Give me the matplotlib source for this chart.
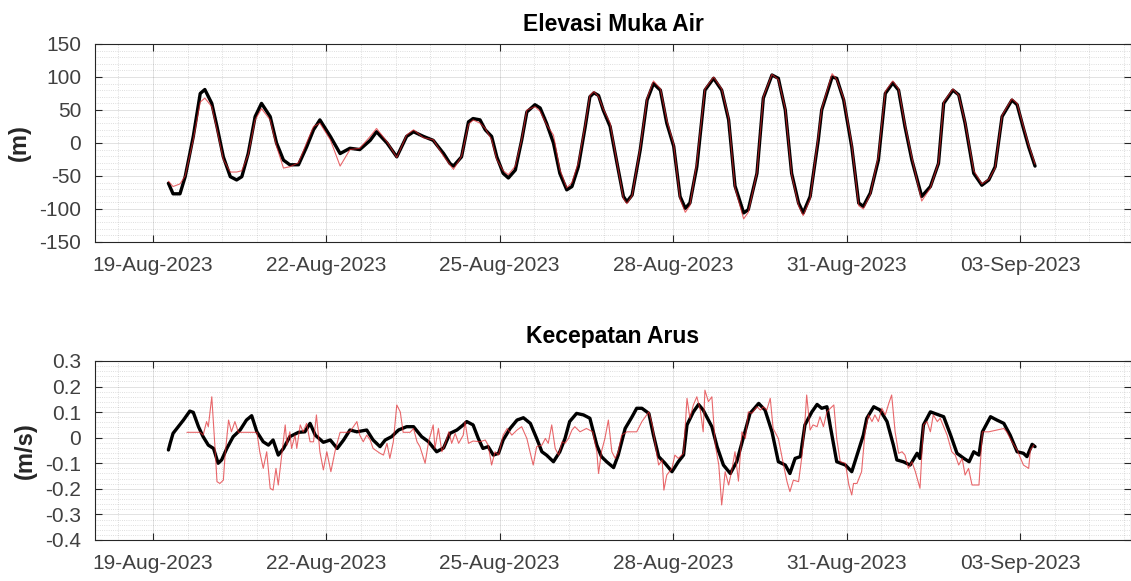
import numpy as np
import pandas as pd
import matplotlib
matplotlib.use('Agg')
import matplotlib.pyplot as plt
import matplotlib.dates as mdates
from matplotlib.ticker import FixedLocator, MultipleLocator, FuncFormatter

#######################################
#      data     #
#######################################
start_date = '2023-08-18'   # days below are counted from this date

# water level, black line (observed) and red line (model), same times
elev_days = [1.27, 1.35, 1.47, 1.56, 1.70, 1.82, 1.90, 2.02, 2.11, 2.22, 2.34, 2.45, 2.54, 2.65,
             2.77, 2.88, 3.03, 3.14, 3.26, 3.37, 3.52, 3.66, 3.78, 3.89, 4.07, 4.24, 4.41, 4.58,
             4.76, 4.87, 5.05, 5.22, 5.39, 5.51, 5.68, 5.85, 6.03, 6.14, 6.20, 6.34, 6.46, 6.54,
             6.66, 6.75, 6.86, 6.95, 7.06, 7.15, 7.27, 7.38, 7.47, 7.61, 7.70, 7.81, 7.93, 8.04,
             8.16, 8.25, 8.36, 8.48, 8.56, 8.63, 8.71, 8.79, 8.91, 9.03, 9.14, 9.20, 9.29, 9.43,
             9.55, 9.66, 9.78, 9.89, 10.01, 10.12, 10.21, 10.29, 10.41, 10.55, 10.70, 10.84, 10.96,
             11.07, 11.22, 11.30, 11.45, 11.56, 11.71, 11.82, 11.94, 12.05, 12.17, 12.25, 12.37,
             12.51, 12.57, 12.75, 12.83, 12.95, 13.09, 13.21, 13.29, 13.41, 13.55, 13.67, 13.80,
             13.90, 14.01, 14.13, 14.30, 14.45, 14.59, 14.68, 14.84, 14.94, 15.05, 15.20, 15.34,
             15.46, 15.57, 15.69, 15.86, 15.95, 16.06, 16.15, 16.26]
elev_obs = [-61, -77, -77, -51, 10, 75, 81, 60, 25, -21, -51, -56, -51, -16,
            40, 60, 40, 0, -26, -33, -33, -6, 20, 35, 10, -16, -8, -10,
            4, 17, 0, -21, 10, 17, 10, 4, -16, -31, -35, -21, 32, 37,
            35, 20, 10, -21, -46, -53, -41, 4, 47, 58, 53, 30, 0, -46,
            -71, -66, -36, 25, 70, 76, 72, 50, 25, -31, -81, -89, -79, -11,
            65, 90, 80, 30, -5, -81, -99, -91, -36, 80, 98, 80, 35,
            -65, -106, -101, -46, 68, 103, 98, 50, -46, -91, -106, -81,
            4, 50, 100, 98, 65, -6, -91, -96, -76, -26, 75, 91,
            80, 25, -26, -81, -66, -31, 60, 80, 73, 30, -46, -64,
            -56, -36, 40, 65, 58, 22, -6, -35]
elev_mod = [-58, -66, -62, -50, 5, 62, 68, 55, 20, -25, -44, -44, -42, -18,
            35, 52, 35, -5, -38, -36, -30, 0, 25, 30, 5, -35, -10, -8,
            10, 22, 2, -22, 12, 20, 8, 5, -20, -33, -40, -20, 28, 35,
            30, 22, 5, -25, -42, -48, -35, 5, 50, 55, 48, 28, 12, -40,
            -68, -60, -30, 28, 72, 78, 70, 52, 30, -30, -84, -92, -80, -8,
            68, 94, 82, 35, -2, -85, -105, -95, -30, 82, 100, 82, 38,
            -68, -115, -105, -45, 70, 104, 96, 52, -48, -95, -110, -85,
            10, 52, 105, 96, 68, -2, -95, -100, -78, -20, 78, 94,
            82, 28, -22, -88, -68, -30, 62, 82, 72, 32, -42, -62,
            -55, -38, 42, 67, 60, 25, -3, -32]

# current speed, black line (observed)
cur_obs_days = [1.27, 1.30, 1.35, 1.44, 1.53, 1.64, 1.70, 1.79, 1.87, 1.96, 2.05, 2.13, 2.19,
                2.28, 2.39, 2.51, 2.62, 2.71, 2.80, 2.91, 3.00, 3.08, 3.17, 3.26, 3.37, 3.52,
                3.63, 3.72, 3.81, 3.95, 4.07, 4.19, 4.30, 4.41, 4.53, 4.70, 4.81, 4.93, 5.02,
                5.13, 5.25, 5.39, 5.51, 5.65, 5.77, 5.91, 6.03, 6.14, 6.26, 6.37, 6.43, 6.54,
                6.63, 6.71, 6.80, 6.89, 6.98, 7.06, 7.18, 7.30, 7.41, 7.53, 7.64, 7.73, 7.81,
                7.93, 8.04, 8.13, 8.21, 8.33, 8.45, 8.56, 8.68, 8.76, 8.85, 8.97, 9.05, 9.17,
                9.29, 9.37, 9.46, 9.58, 9.66, 9.75, 9.86, 9.98, 10.09, 10.18, 10.24, 10.35,
                10.44, 10.52, 10.67, 10.76, 10.87, 10.99, 11.10, 11.22, 11.33, 11.48, 11.59,
                11.71, 11.82, 11.94, 12.02, 12.11, 12.20, 12.28, 12.40, 12.49, 12.57, 12.66,
                12.72, 12.83, 12.98, 13.09, 13.18, 13.29, 13.35, 13.47, 13.58, 13.70, 13.81,
                13.87, 13.98, 14.10, 14.22, 14.27, 14.33, 14.45, 14.57, 14.68, 14.80, 14.91,
                15.03, 15.12, 15.20, 15.29, 15.35, 15.49, 15.60, 15.72, 15.83, 15.95, 16.06,
                16.12, 16.21, 16.26]
cur_obs = [-0.048, -0.022, 0.017, 0.043, 0.069, 0.104, 0.099, 0.043, 0.004, -0.029, -0.042, -0.100, -0.087,
           -0.042, 0.004, 0.030, 0.069, 0.086, 0.023, -0.016, -0.029, -0.009, -0.068, -0.042, 0.004, 0.021,
           0.023, 0.056, 0.010, -0.018, -0.009, -0.042, -0.009, 0.030, 0.023, 0.030, -0.009, -0.035, -0.009,
           0.004, 0.030, 0.043, 0.043, 0.004, -0.016, -0.055, -0.040, 0.017, 0.030, 0.050, 0.063, 0.050,
           -0.003, -0.042, -0.035, -0.068, -0.061, -0.009, 0.036, 0.069, 0.078, 0.056, -0.003, -0.055, -0.068,
           -0.094, -0.055, -0.003, 0.063, 0.095, 0.089, 0.076, -0.029, -0.074, -0.094, -0.117, -0.068, 0.036,
           0.082, 0.115, 0.115, 0.095, 0.010, -0.074, -0.100, -0.133, -0.094, -0.068, 0.050, 0.101,
           0.130, 0.108, 0.043, -0.035, -0.107, -0.140, -0.094, 0.004, 0.095, 0.134, 0.108,
           0.023, -0.094, -0.107, -0.140, -0.081, -0.074, 0.050, 0.101, 0.130, 0.115, 0.121,
           0.043, -0.094, -0.107, -0.133, -0.068, 0.010, 0.076, 0.121, 0.108, 0.063, -0.029,
           -0.087, -0.094, -0.107, -0.061, -0.081, 0.050, 0.101, 0.091, 0.082, 0.010, -0.061,
           -0.081, -0.094, -0.055, -0.068, 0.023, 0.082, 0.069, 0.056, 0.010, -0.055, -0.061,
           -0.074, -0.026, -0.035]

# current speed, red line (model)
cur_mod_days = [1.59, 1.82, 1.87, 1.93, 1.96, 2.02, 2.08, 2.11, 2.16, 2.22, 2.25, 2.31, 2.36, 2.42,
                2.48, 2.80, 2.85, 2.91, 2.97, 3.03, 3.08, 3.13, 3.17, 3.23, 3.29, 3.32, 3.37, 3.40,
                3.46, 3.49, 3.55, 3.60, 3.66, 3.72, 3.78, 3.83, 3.89, 3.95, 4.01, 4.08, 4.15, 4.21,
                4.24, 4.35, 4.41, 4.47, 4.53, 4.58, 4.64, 4.70, 4.76, 4.81, 4.93, 4.99, 5.05, 5.10,
                5.16, 5.22, 5.28, 5.33, 5.45, 5.51, 5.57, 5.62, 5.71, 5.77, 5.85, 5.88, 5.94, 6.00,
                6.06, 6.12, 6.17, 6.23, 6.29, 6.37, 6.40, 6.46, 6.54, 6.66, 6.75, 6.80, 6.86, 6.92,
                6.98, 7.06, 7.13, 7.21, 7.30, 7.38, 7.47, 7.53, 7.58, 7.64, 7.73, 7.79, 7.84, 7.90,
                7.96, 8.02, 8.08, 8.13, 8.19, 8.25, 8.30, 8.39, 8.50, 8.61, 8.68, 8.71, 8.76, 8.82,
                8.88, 8.94, 9.00, 9.05, 9.11, 9.20, 9.29, 9.37, 9.46, 9.52, 9.58, 9.64, 9.72, 9.75,
                9.81, 9.84, 9.89, 9.98, 10.03, 10.09, 10.18, 10.24, 10.29, 10.35, 10.41, 10.47,
                10.52, 10.55, 10.61, 10.67, 10.73, 10.79, 10.84, 10.90, 10.96, 11.01, 11.07, 11.13,
                11.19, 11.25, 11.30, 11.36, 11.45, 11.51, 11.56, 11.62, 11.68, 11.73, 11.82, 11.91,
                11.97, 12.02, 12.08, 12.17, 12.23, 12.28, 12.31, 12.37, 12.42, 12.49, 12.54, 12.60,
                12.66, 12.72, 12.78, 12.83, 12.89, 12.98, 13.04, 13.09, 13.12, 13.18, 13.26, 13.32,
                13.38, 13.44, 13.49, 13.55, 13.61, 13.67, 13.73, 13.78, 13.84, 13.90, 13.96, 14.01,
                14.07, 14.13, 14.19, 14.27, 14.33, 14.39, 14.45, 14.50, 14.57, 14.62, 14.74, 14.82,
                14.88, 14.94, 15.00, 15.05, 15.11, 15.17, 15.29, 15.35, 15.46, 15.60, 15.72, 15.77,
                15.86, 15.95, 16.01, 16.06, 16.15, 16.18, 16.24]
cur_mod = [0.021, 0.021, 0.010, 0.063, 0.043, 0.160, -0.055, -0.172, -0.179, -0.166, -0.068, 0.069, 0.023, 0.063,
           0.021, 0.021, -0.055, -0.120, -0.055, -0.198, -0.205, -0.120, -0.185, -0.068, 0.050, -0.029, 0.023, -0.042,
           0.010, -0.042, 0.050, 0.023, 0.056, -0.016, -0.016, 0.089, -0.055, -0.126, -0.055, -0.133, -0.055, -0.003,
           0.021, 0.021, 0.023, 0.043, 0.063, 0.010, -0.016, 0.010, -0.009, -0.042, -0.061, -0.068, -0.022, -0.081,
           -0.016, 0.128, 0.101, 0.021, 0.021, 0.036, -0.016, -0.035, -0.100, -0.016, 0.050, -0.042, 0.036, -0.055,
           -0.022, 0.023, -0.022, 0.017, -0.022, 0.010, 0.063, -0.022, -0.013, -0.016, -0.009, -0.029, -0.107, -0.055,
           -0.068, 0.010, 0.036, 0.010, 0.030, 0.043, -0.003, -0.061, -0.107, -0.035, -0.029, -0.003, -0.022, 0.050,
           -0.042, -0.068, -0.016, -0.022, -0.003, 0.030, 0.043, 0.023, 0.036, 0.023, -0.055, -0.140, -0.055, -0.003,
           0.069, -0.055, -0.081, -0.055, 0.010, 0.023, 0.023, 0.023, 0.063, 0.082, 0.101, 0.050, -0.068, -0.107,
           -0.087, -0.205, -0.146, -0.120, -0.068, -0.081, -0.061, 0.154, 0.076, 0.128, 0.160, 0.108,
           0.023, 0.186, 0.141, 0.160, -0.029, -0.107, -0.263, -0.133, -0.185, -0.133, -0.055, -0.170,
           0.023, -0.003, 0.101, 0.095, 0.121, 0.108, 0.121, 0.108, 0.154, 0.036, -0.003, -0.107,
           -0.172, -0.211, -0.166, -0.172, -0.068, 0.063, 0.167, 0.030, 0.050, 0.043, 0.082, 0.043,
           0.101, 0.115, 0.128, -0.003, -0.094, -0.100, -0.185, -0.224, -0.179, -0.179, -0.133, 0.023,
           0.089, 0.063, 0.089, 0.063, 0.115, 0.089, 0.134, 0.167, 0.023, -0.061, -0.055, -0.068,
           -0.120, -0.094, -0.133, -0.198, 0.050, 0.063, 0.023, 0.089, 0.063, 0.076, 0.010, -0.055,
           -0.068, -0.107, -0.081, -0.146, -0.120, -0.185, -0.185, 0.023, 0.023, 0.030, 0.036, 0.023,
           -0.016, -0.048, -0.081, -0.107, -0.120, -0.048, -0.029]

tick_dates = ['2023-08-19', '2023-08-22', '2023-08-25', '2023-08-28', '2023-08-31', '2023-09-03']

titles = ['Elevasi Muka Air', 'Kecepatan Arus']
ylabels = ['(m)', '(m/s)']

#######################################
#      style                          #
#######################################
plt.rcParams['font.family'] = ['Liberation Sans', 'DejaVu Sans']
plt.rcParams['axes.unicode_minus'] = False
dark = '#262626'
red = '#e0282d'

base = mdates.date2num(pd.Timestamp(start_date))
xmin, xmax = base, base + 17.92


def to_num(days):
    return base + np.array(days)


fig = plt.figure(figsize=(11.31, 5.81), dpi=100)
ax1 = fig.add_axes([0.084, 0.5835, 0.916, 0.3408])
ax2 = fig.add_axes([0.084, 0.0706, 0.916, 0.3081])

line_kw = dict(solid_joinstyle='round', solid_capstyle='round')
ax1.plot(to_num(elev_days), elev_mod, color=red, lw=0.8, alpha=0.7, zorder=3, **line_kw)
ax1.plot(to_num(elev_days), elev_obs, color='black', lw=2.4, zorder=2, **line_kw)
ax2.plot(to_num(cur_mod_days), cur_mod, color=red, lw=0.8, alpha=0.7, zorder=3, **line_kw)
ax2.plot(to_num(cur_obs_days), cur_obs, color='black', lw=2.4, zorder=2, **line_kw)

ax1.set_ylim(-150, 150)
ax1.yaxis.set_major_locator(MultipleLocator(50))
ax1.yaxis.set_minor_locator(MultipleLocator(10))
ax2.set_ylim(-0.4, 0.3)
ax2.yaxis.set_major_locator(MultipleLocator(0.1))
ax2.yaxis.set_minor_locator(MultipleLocator(0.02))
ax2.yaxis.set_major_formatter(FuncFormatter(lambda v, p: '%g' % round(v, 2)))

major_x = [mdates.date2num(pd.Timestamp(d)) for d in tick_dates]
minor_x = np.arange(major_x[0] - 0.6, xmax, 0.6)

for ax, ttl, yl, tpad in zip([ax1, ax2], titles, ylabels, [9, 13]):
    ax.set_xlim(xmin, xmax)
    ax.xaxis.set_major_locator(FixedLocator(major_x))
    ax.xaxis.set_minor_locator(FixedLocator(minor_x))
    ax.xaxis.set_major_formatter(mdates.DateFormatter('%d-%b-%Y'))
    ax.grid(which='major', color=dark, alpha=0.16, lw=0.6, ls='-')
    ax.grid(which='minor', color=dark, alpha=0.2, lw=0.6, ls=':')
    ax.set_axisbelow(True)
    ax.tick_params(which='major', direction='in', length=5, width=0.8, colors=dark,
                   top=True, right=True, labelsize=15, pad=10)
    ax.tick_params(which='minor', length=0)
    for s in ax.spines.values():
        s.set_color(dark)
        s.set_linewidth(0.8)
    ax.set_title(ttl, fontsize=16.5, fontweight='bold', pad=tpad)
    ax.set_ylabel(yl, fontsize=17, fontweight='bold', color=dark, labelpad=6)
    for lab in ax.get_xticklabels() + ax.get_yticklabels():
        lab.set_color('#404040')

fig.savefig('out.png', dpi=100)
